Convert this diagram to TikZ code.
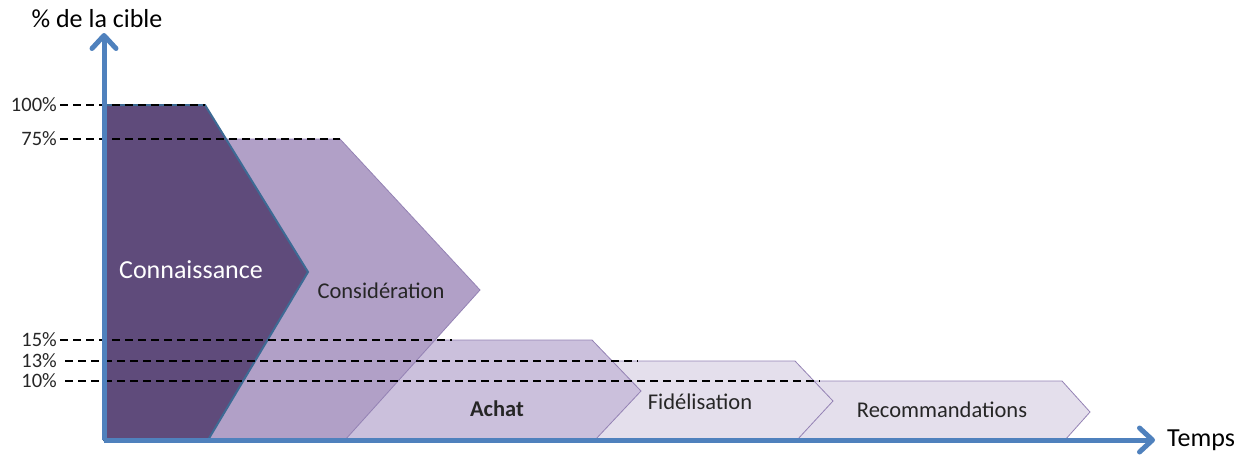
\documentclass[tikz,border=0pt]{standalone}
\usepackage{fontspec}
\setmainfont{Carlito}
\usetikzlibrary{arrows.meta}
\definecolor{axisblue}{HTML}{4F81BD}
\definecolor{edgeblue}{HTML}{3D6A94}
\definecolor{stageA}{HTML}{5F4B7B}
\definecolor{stageB}{HTML}{B1A0C7}
\definecolor{stageC}{HTML}{CBC0DC}
\definecolor{stageD}{HTML}{E4DFEC}
\definecolor{stageedge}{HTML}{9482B4}
\definecolor{txt}{HTML}{262626}
\tikzset{x=1pt, y=-1pt,
	axis/.style={
		draw=axisblue,
		line width=5pt,
		-{Straight Barb[length=13pt,width=24pt,round]}},
	stage/.style={
		draw=stageedge,
		line width=0.8pt,
		line join=miter},
	level/.style={
		draw=black,
		line width=1.8pt,
		dash pattern=on 8pt off 5pt},
	pct/.style={
		anchor=east,
		inner sep=0pt,
		text=txt,
		font=\fontsize{20.5}{24}\selectfont},
	stagename/.style={
		text=txt,
		font=\fontsize{22.5}{26}\selectfont}
}
\begin{document}
\begin{tikzpicture}
	\useasboundingbox (0,0) rectangle (1247,455);
	% stages, back to front
	\filldraw[stage, fill=stageD] (590,381) -- (1062,381) -- (1090,412) -- (1065,440) -- (590,440) -- cycle;
	\filldraw[stage, fill=stageD] (560,361) -- (795,361) -- (833,401) -- (797,440) -- (560,440) -- cycle;
	\filldraw[stage, fill=stageC] (300,340) -- (592,340) -- (641,391) -- (595,440) -- (300,440) -- cycle;
	\filldraw[stage, fill=stageB] (150,139) -- (340,139) -- (480,290) -- (345,440) -- (150,440) -- cycle;
	\filldraw[draw=edgeblue, line width=2pt, fill=stageA] (104,105) -- (205,105) -- (308,272) -- (208,440) -- (104,440) -- cycle;
	\node[text=white, font=\fontsize{26}{30}\selectfont] (conn) at (191,270) {Connaissance};
	\node[stagename] (cons) at (381,291) {Considération};
	\node[stagename, font=\fontsize{22.5}{26}\selectfont\bfseries] (achat) at (497,409) {Achat};
	\node[stagename] (fide) at (700,402) {Fidélisation};
	\node[stagename] (reco) at (942,410) {Recommandations};
	% levels
	\node[pct] (p100) at (57,105) {100\%};
	\node[pct] (p75) at (57,139) {75\%};
	\node[pct] (p15) at (57,340) {15\%};
	\node[pct] (p13) at (57,361) {13\%};
	\node[pct] (p10) at (57,381) {10\%};
	\coordinate (e100) at (205,105);
	\coordinate (e75) at (340,139);
	\coordinate (e15) at (452,340);
	\coordinate (e13) at (638,361);
	\coordinate (e10) at (820,381);
	\draw[level] ([xshift=3pt]p100.east) -- (e100);
	\draw[level] ([xshift=3pt]p75.east) -- (e75);
	\draw[level] ([xshift=3pt]p15.east) -- (e15);
	\draw[level] ([xshift=8pt]p13.east) -- (e13);
	\draw[level] ([xshift=8pt]p10.east) -- (e10);
	% axes
	\coordinate (O) at (104,440);
	\coordinate (ytip) at (104,33);
	\coordinate (xtip) at (1155,440);
	\draw[axis] (O) -- (ytip);
	\draw[axis] (O) -- (xtip);
	\node[font=\fontsize{26}{30}\selectfont, anchor=south, inner sep=2pt] (ylab) at (97,30) {\% de la cible};
	\node[font=\fontsize{26}{30}\selectfont, anchor=west, inner sep=2pt] (xlab) at (1165,440) {Temps};
\end{tikzpicture}
\end{document}
